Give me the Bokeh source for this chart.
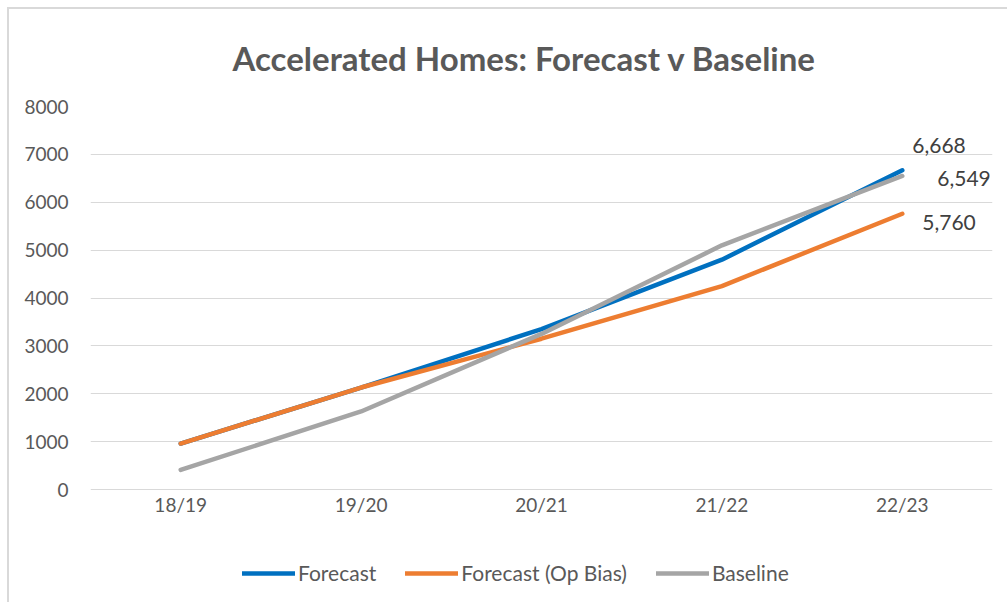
from bokeh.plotting import figure
from bokeh.models import FactorRange, Legend, LegendItem, FixedTicker, Title
from bokeh.layouts import column
from bokeh.embed import file_html
from bokeh.resources import INLINE

years = ["18/19", "19/20", "20/21", "21/22", "22/23"]
forecast = [960, 2130, 3350, 4800, 6668]
op_bias = [960, 2130, 3150, 4250, 5760]
baseline = [410, 1630, 3250, 5100, 6549]
y_ticks = [0, 1000, 2000, 3000, 4000, 5000, 6000, 7000, 8000]
end_labels = ["6,668", "6,549", "5,760"]

FONT = "Lato"
GRAY = "#595959"

# frame extends below the 0 line so that the legend can sit inside it
p = figure(x_range=FactorRange(*years, range_padding=0), y_range=(-2318, 8000),
           frame_width=902, frame_height=494, output_backend="svg",
           toolbar_location=None,
           min_border_left=81, min_border_right=15, min_border_top=97,
           min_border_bottom=2)

p.title = Title(text="Accelerated Homes: Forecast v Baseline", align="left",
                vertical_align="middle",
                text_font=FONT, text_font_size="33px", text_font_style="bold",
                text_color=GRAY, standoff=55, offset=142)
p.outline_line_color = None
p.xgrid.grid_line_color = None
p.ygrid.grid_line_color = "#d9d9d9"
p.ygrid.grid_line_width = 1
p.yaxis.ticker = FixedTicker(ticks=y_ticks)
for ax in (p.xaxis, p.yaxis):
    ax.axis_line_color = None
    ax.major_tick_line_color = None
    ax.minor_tick_line_color = None
    ax.major_label_text_font = FONT
    ax.major_label_text_color = GRAY
    ax.major_label_text_font_size = "19px"
p.yaxis.major_label_standoff = 16
p.xaxis.major_label_standoff = -114

r1 = p.line(years, forecast, line_color="#0070C0", line_width=4.5, line_cap="round")
r2 = p.line(years, op_bias, line_color="#ED7D31", line_width=4.5, line_cap="round")
r3 = p.line(years, baseline, line_color="#A5A5A5", line_width=4.5, line_cap="round")

last = years[-1]
for val, lab, dx, dy in [(forecast[-1], end_labels[0], 10, 25),
                          (baseline[-1], end_labels[1], 35, -3),
                          (op_bias[-1], end_labels[2], 20, -9)]:
    p.text(x=[last], y=[val], text=[lab], x_offset=dx, y_offset=-dy,
           text_font={"value": FONT}, text_font_size="21px",
           text_color="#404040", text_baseline="middle", text_align="left")

legend = Legend(items=[LegendItem(label="Forecast", renderers=[r1]),
                       LegendItem(label="Forecast (Op Bias)", renderers=[r2]),
                       LegendItem(label="Baseline", renderers=[r3])],
                orientation="horizontal", location=(152, 15),
                label_text_font=FONT, label_text_font_size="21px",
                label_text_color=GRAY, border_line_color=None,
                background_fill_alpha=0, padding=0,
                glyph_width=53, label_standoff=3, spacing=29, margin=0)
p.add_layout(legend)

layout = column(p, styles={"margin-left": "7px", "margin-top": "7px",
                           "border-left": "2px solid #d9d9d9",
                           "border-top": "2px solid #d9d9d9"})

open("out.html", "w").write(file_html(layout, INLINE))
